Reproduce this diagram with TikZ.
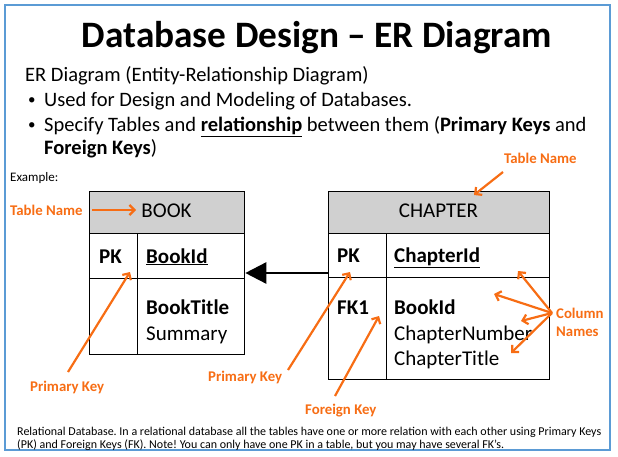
\documentclass[tikz,border=0pt]{standalone}
\usepackage{fontspec}
\setmainfont{Carlito}
\usetikzlibrary{arrows.meta}
\definecolor{frameblue}{RGB}{91,155,213}
\definecolor{lblorange}{RGB}{247,109,20}
\definecolor{hdrgray}{RGB}{208,208,208}
\frenchspacing
\begin{document}
\begin{tikzpicture}[x=1pt,y=-1pt,
  txt/.style={inner sep=0pt, anchor=base west},
  body/.style={txt, font=\fontsize{20.5}{24}\selectfont},
  bul/.style={txt, font=\fontsize{15}{18}\selectfont},
  cell/.style={txt, font=\fontsize{21}{25}\selectfont},
  lbl/.style={txt, text=lblorange, font=\fontsize{14.8}{17}\selectfont\bfseries},
  tbl/.style={draw=black, line width=1.3pt, inner sep=0pt, anchor=north west},
  hdr/.style={tbl, fill=hdrgray},
  oarrow/.style={draw=lblorange, line width=2.2pt, -{Straight Barb[length=5pt,width=10pt]}},
  relarrow/.style={draw=black, line width=2.5pt, -{Triangle[length=21pt,width=21pt]}}]
\useasboundingbox (0,0) rectangle (618,457);
\draw[frameblue, line width=1.5pt] (5,5) rectangle (610,450);

\node[txt, anchor=base, font=\fontsize{37.3}{42}\selectfont\bfseries] (title) at (317,48) {Database Design – ER Diagram};
\node[body] (intro) at (25,82) {ER Diagram (Entity-Relationship Diagram)};
\node[bul] (b1) at (28,105) {•};
\node[body] (l1) at (44,107) {Used for Design and Modeling of Databases.};
\node[bul] (b2) at (28,130) {•};
\node[body] (l2) at (44,132) {Specify Tables and \underline{\textbf{relationship}} between them (\textbf{Primary Keys} and};
\node[body] (l3) at (44,155) {\textbf{Foreign Keys})};
\node[txt, font=\fontsize{13}{15}\selectfont] (example) at (10,182) {Example:};

% BOOK table
\node[hdr, minimum width=155pt, minimum height=42pt] (bookhdr) at (89,191) {};
\node[tbl, minimum width=48pt, minimum height=45pt] (bookpkc) at (89,233) {};
\node[tbl, minimum width=107pt, minimum height=45pt] (bookidc) at (137,233) {};
\node[tbl, minimum width=48pt, minimum height=76pt] (bookkc) at (89,278) {};
\node[tbl, minimum width=107pt, minimum height=76pt] (bookac) at (137,278) {};
\node[cell, anchor=base] (bookname) at (166.5,218) {BOOK};
\node[cell, font=\fontsize{21}{25}\selectfont\bfseries] (bookpk) at (99,263) {PK};
\node[cell, font=\fontsize{21}{25}\selectfont\bfseries] (bookid) at (146,263) {\underline{BookId}};
\node[cell, font=\fontsize{21}{25}\selectfont\bfseries] (booktitle) at (146,314) {BookTitle};
\node[cell] (booksum) at (146,340) {Summary};

% CHAPTER table
\node[hdr, minimum width=221pt, minimum height=42pt] (chhdr) at (328,191) {};
\node[tbl, minimum width=58pt, minimum height=44pt] (chpkc) at (328,233) {};
\node[tbl, minimum width=163pt, minimum height=44pt] (chidc) at (386,233) {};
\node[tbl, minimum width=58pt, minimum height=102pt] (chkc) at (328,277) {};
\node[tbl, minimum width=163pt, minimum height=102pt] (chac) at (386,277) {};
\node[cell, anchor=base] (chname) at (438.5,218) {CHAPTER};
\node[cell, font=\fontsize{21}{25}\selectfont\bfseries] (chpk) at (337,262) {PK};
\node[cell, font=\fontsize{21}{25}\selectfont\bfseries] (chid) at (394,262) {\underline{ChapterId}};
\node[cell, font=\fontsize{21}{25}\selectfont\bfseries] (chfk) at (337,314) {FK1};
\node[cell, font=\fontsize{21}{25}\selectfont\bfseries] (chbook) at (394,314) {BookId};
\node[cell] (chnum) at (394,340) {ChapterNumber};
\node[cell] (chtitle) at (394,365) {ChapterTitle};

% relationship
\coordinate (relstart) at (chpkc.west |- 0,273);
\coordinate (relend) at (bookidc.east |- 0,273);
\draw[relarrow] (relstart) -- (relend);

% orange labels
\node[lbl] (tn1) at (10,215) {Table Name};
\node[lbl] (tn2) at (504,164) {Table Name};
\node[lbl] (pk1) at (30,391) {Primary Key};
\node[lbl] (pk2) at (208,381) {Primary Key};
\node[lbl] (fk) at (305,414) {Foreign Key};
\node[lbl] (cn1) at (556,318) {Column};
\node[lbl] (cn2) at (556,336) {Names};

\coordinate (tn1s) at (92,210);  \coordinate (tn1e) at (136,210);
\coordinate (tn2s) at (503,172); \coordinate (tn2e) at (474,195);
\coordinate (pk1s) at (68,372);  \coordinate (pk1e) at (130,272);
\coordinate (pk2s) at (288,370); \coordinate (pk2e) at (350,272);
\coordinate (fks) at (335,396);  \coordinate (fke) at (379,316);
\coordinate (cns) at (552,313);
\coordinate (c1) at (518,271); \coordinate (c2) at (494,294);
\coordinate (c3) at (521,321); \coordinate (c4) at (511,353);
\draw[oarrow] (tn1s) -- (tn1e);
\draw[oarrow] (tn2s) -- (tn2e);
\draw[oarrow] (pk1s) -- (pk1e);
\draw[oarrow] (pk2s) -- (pk2e);
\draw[oarrow] (fks) -- (fke);
\draw[oarrow] (cns) -- (c1);
\draw[oarrow] (cns) -- (c2);
\draw[oarrow] (cns) -- (c3);
\draw[oarrow] (cns) -- (c4);

% footer
\node[txt, font=\fontsize{12}{14}\selectfont] (foot1) at (17,435) {Relational Database. In a relational database all the tables have one or more relation with each other using Primary Keys};
\node[txt, font=\fontsize{12}{14}\selectfont] (foot2) at (17,448) {(PK) and Foreign Keys (FK). Note! You can only have one PK in a table, but you may have several FK’s.};
\end{tikzpicture}
\end{document}
